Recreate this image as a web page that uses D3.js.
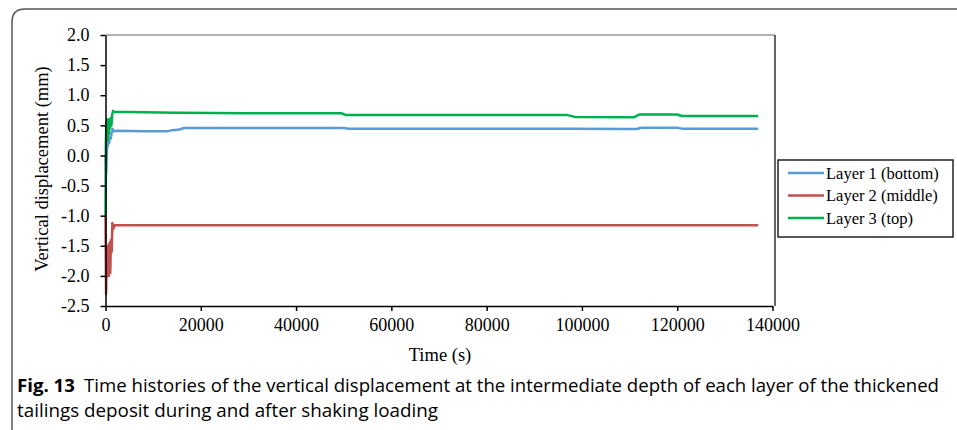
<!DOCTYPE html>
<html>
<head>
<meta charset="utf-8">
<script src="https://cdn.jsdelivr.net/npm/d3@7"></script>
<style>
  body { margin: 0; background: #fff; }
  svg { display: block; }
  .axis path, .axis line { stroke: #000; stroke-width: 1.5; }
</style>
</head>
<body>
<svg id="chart" width="957" height="430"></svg>
<script>
// displacement time histories

var yTicks = [-2.5, -2.0, -1.5, -1.0, -0.5, 0.0, 0.5, 1.0, 1.5, 2.0];
var xTicks = [0, 20000, 40000, 60000, 80000, 100000, 120000, 140000];

var layer1 = [
  [0, 0.0], [150, -0.3], [300, 0.1], [450, 0.15], [600, 0.25], [750, 0.2], [900, 0.3],
  [1100, 0.28], [1300, 0.38], [1500, 0.44], [1800, 0.40], [2500, 0.41], [8000, 0.40],
  [13000, 0.40], [14000, 0.42], [15500, 0.43], [16500, 0.455], [30000, 0.455],
  [50000, 0.455], [51000, 0.445], [80000, 0.445], [98000, 0.445], [110000, 0.44],
  [111500, 0.44], [112500, 0.46], [120000, 0.46], [121000, 0.445], [137000, 0.445]
];
var layer2 = [
  [0, -1.0], [120, -2.3], [280, -1.6], [420, -2.0], [560, -1.5], [700, -2.0], [850, -1.45],
  [1000, -1.95], [1150, -1.4], [1300, -1.6], [1450, -1.12], [1650, -1.22], [1900, -1.16],
  [3000, -1.16], [50000, -1.16], [100000, -1.16], [137000, -1.16]
];
var layer3 = [
  [0, -1.0], [80, 0.2], [180, 0.55], [280, 0.3], [380, 0.6], [480, 0.25], [600, 0.55],
  [720, 0.35], [850, 0.6], [980, 0.45], [1100, 0.62], [1250, 0.5], [1400, 0.68],
  [1600, 0.74], [1800, 0.72], [5000, 0.72], [15000, 0.71], [30000, 0.70], [49500, 0.70],
  [50500, 0.67], [80000, 0.67], [97000, 0.67], [98500, 0.64], [111000, 0.635],
  [112000, 0.68], [120000, 0.68], [121000, 0.655], [137000, 0.655]
];

var seriesNames = ["Layer 1 (bottom)", "Layer 2 (middle)", "Layer 3 (top)"];
var seriesData = [layer1, layer2, layer3];
var seriesColors = ["#5b9bd5", "#c0504d", "#00b050"];

var svg = d3.select("#chart");
var margin = {top: 35, right: 182, bottom: 124, left: 105.5};
var width = 775 - margin.left;
var height = 306 - margin.top;
var serif = "'Liberation Serif', 'Times New Roman', serif";

// outer figure frame (rounded top-left corner)
svg.append("path")
    .attr("d", "M12,430 L12,22 Q12,9 25,9 L957,9")
    .attr("fill", "none")
    .attr("stroke", "#555")
    .attr("stroke-width", 1.5);

var g = svg.append("g")
    .attr("transform", "translate(" + margin.left + "," + margin.top + ")");

var x = d3.scaleLinear().domain([0, 140000]).range([0, 667]);
var y = d3.scaleLinear().domain([-2.5, 2.0]).range([height, 0]);

// plot area border top/right
g.append("line")
    .attr("x1", 0).attr("x2", width).attr("y1", 0).attr("y2", 0)
    .attr("stroke", "#999").attr("stroke-width", 1.5);
g.append("line")
    .attr("x1", width).attr("x2", width).attr("y1", 0).attr("y2", height)
    .attr("stroke", "#333").attr("stroke-width", 1.5);

var line = d3.line()
    .x(function(d) { return x(d[0]); })
    .y(function(d) { return y(d[1]); });

seriesData.forEach(function(data, i) {
    g.append("path")
        .datum(data)
        .attr("fill", "none")
        .attr("stroke", seriesColors[i])
        .attr("stroke-width", 2.5)
        .attr("stroke-linejoin", "round")
        .attr("d", line);
});

var xAxis = d3.axisBottom(x).tickValues(xTicks).tickFormat(d3.format("d"))
    .tickSizeInner(5).tickSizeOuter(0).tickPadding(7);
var yAxis = d3.axisLeft(y).tickValues(yTicks)
    .tickFormat(function(d) { return d3.format(".1f")(d).replace("\u2212", "-"); })
    .tickSizeInner(5).tickSizeOuter(0).tickPadding(11);

g.append("g")
    .attr("class", "axis")
    .attr("transform", "translate(0," + height + ")")
    .call(xAxis)
    .attr("font-family", serif).attr("font-size", 18);

g.append("g")
    .attr("class", "axis")
    .call(yAxis)
    .attr("font-family", serif).attr("font-size", 18);

g.selectAll(".axis text").attr("fill", "#000");

// axis titles
svg.append("text")
    .attr("x", 440).attr("y", 361)
    .attr("text-anchor", "middle")
    .attr("font-family", serif).attr("font-size", 18.5)
    .text("Time (s)");

svg.append("text")
    .attr("transform", "translate(48,169) rotate(-90)")
    .attr("text-anchor", "middle")
    .attr("font-family", serif).attr("font-size", 18.5)
    .text("Vertical displacement (mm)");

// legend
var leg = svg.append("g").attr("transform", "translate(778,160)");
leg.append("rect")
    .attr("width", 175).attr("height", 77)
    .attr("fill", "#fff").attr("stroke", "#222").attr("stroke-width", 1.5);
seriesNames.forEach(function(name, i) {
    var ly = 13 + 22.5 * i;
    leg.append("line")
        .attr("x1", 10).attr("x2", 46).attr("y1", ly).attr("y2", ly)
        .attr("stroke", seriesColors[i]).attr("stroke-width", 2.5);
    leg.append("text")
        .attr("x", 48).attr("y", ly + 5.5)
        .attr("font-family", serif).attr("font-size", 16.5)
        .text(name);
});

// caption
var cap = svg.append("text")
    .attr("x", 17).attr("y", 392)
    .attr("font-family", "'Open Sans', sans-serif").attr("font-size", 18)
    .attr("textLength", 922).attr("lengthAdjust", "spacingAndGlyphs");
cap.append("tspan").attr("font-weight", "bold").text("Fig. 13");
cap.append("tspan").text("\u2002Time histories of the vertical displacement at the intermediate depth of each layer of the thickened");
svg.append("text")
    .attr("x", 17).attr("y", 417)
    .attr("font-family", "'Open Sans', sans-serif").attr("font-size", 18)
    .attr("textLength", 421).attr("lengthAdjust", "spacingAndGlyphs")
    .text("tailings deposit during and after shaking loading");
</script>
</body>
</html>
